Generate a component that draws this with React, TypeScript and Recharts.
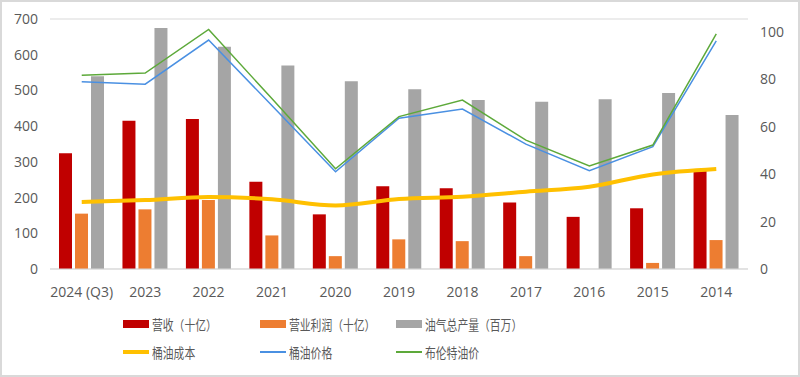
import { ComposedChart, Bar, Line, XAxis, YAxis, CartesianGrid } from 'recharts';

const years = ['2024 (Q3)', '2023', '2022', '2021', '2020', '2019', '2018', '2017', '2016', '2015', '2014'];
const revenue = [324, 415, 420, 244, 153, 232, 226, 186, 146, 170, 276];
const profit = [155, 167, 193, 94, 36, 83, 78, 36, 0, 17, 81];
const production = [540, 675, 622, 570, 526, 503, 473, 468, 475, 493, 431];
const barrelCost = [28.3, 29.1, 30.4, 29.4, 26.8, 29.5, 30.5, 32.6, 34.7, 39.9, 42.2];
const barrelPrice = [79, 78, 96.6, 68.9, 41, 63.6, 67.5, 52.7, 41.5, 51.6, 96.3];
const brentPrice = [81.8, 82.7, 101.1, 71.8, 42.3, 64.3, 71.3, 54.4, 43.5, 52.3, 99.2];

const leftTicks = [0, 100, 200, 300, 400, 500, 600, 700];
const rightTicks = [0, 20, 40, 60, 80, 100];

const data = years.map((year, i) => ({
  year,
  revenue: revenue[i],
  profit: profit[i],
  production: production[i],
  barrelCost: barrelCost[i],
  barrelPrice: barrelPrice[i],
  brentPrice: brentPrice[i],
}));

// legend entries, same order as the Excel legend
const legendItems = [
  { name: '营收（十亿）', color: '#C00000', kind: 'bar' },
  { name: '营业利润（十亿）', color: '#ED7D31', kind: 'bar' },
  { name: '油气总产量（百万）', color: '#A5A5A5', kind: 'bar' },
  { name: '桶油成本', color: '#FFC000', kind: 'thick' },
  { name: '桶油价格', color: '#4A90E2', kind: 'line' },
  { name: '布伦特油价', color: '#5DA93A', kind: 'line' },
];

const axisTick = { fill: '#595959', fontSize: 14, fontFamily: '"Open Sans", sans-serif' };

const COL_X = [123, 260, 396];
const ROW_Y = [324, 352];

function ChartLegend() {
  return (
    <>
      {legendItems.map((item, i) => {
        const col = i % 3;
        const row = Math.floor(i / 3);
        const h = item.kind === 'bar' ? 8 : item.kind === 'thick' ? 4 : 1.5;
        return (
          <div
            key={item.name}
            style={{
              position: 'absolute',
              left: COL_X[col],
              top: ROW_Y[row] - 10,
              height: 20,
              display: 'flex',
              alignItems: 'center',
              whiteSpace: 'nowrap',
            }}
          >
            <span style={{ display: 'inline-block', width: 26, height: h, background: item.color, marginRight: 3 }} />
            <span
              style={{
                display: 'inline-block',
                fontFamily: '"Noto Sans CJK SC", sans-serif',
                fontSize: 13.5,
                color: '#595959',
                transform: 'scaleX(0.8)',
                transformOrigin: 'left center',
              }}
            >
              {item.name}
            </span>
          </div>
        );
      })}
    </>
  );
}

export default function App() {
  return (
    <div
      style={{
        position: 'absolute',
        left: 0,
        top: 0,
        width: 800,
        height: 377,
        background: '#fff',
        overflow: 'hidden',
      }}
    >
      <div style={{ position: 'absolute', left: 0, top: 0 }}>
        <ComposedChart
          width={800}
          height={377}
          data={data}
          margin={{ top: 19, right: 0, bottom: 78, left: 6 }}
          barSize={13}
          barGap={3}
        >
          <CartesianGrid vertical={false} stroke="#d9d9d9" strokeWidth={1} />
          <XAxis
            dataKey="year"
            axisLine={{ stroke: '#d9d9d9' }}
            tickLine={false}
            tick={axisTick}
            tickMargin={12}
            height={30}
            interval={0}
          />
          <YAxis
            yAxisId="left"
            domain={[0, 700]}
            ticks={leftTicks}
            axisLine={false}
            tickLine={false}
            tick={axisTick}
            tickMargin={6}
            width={44}
          />
          <YAxis
            yAxisId="right"
            orientation="right"
            domain={[0, 105.5]}
            ticks={rightTicks}
            axisLine={false}
            tickLine={false}
            tick={{ ...axisTick, textAnchor: 'start' }}
            tickMargin={6}
            width={52}
            allowDataOverflow
          />
          <Bar yAxisId="left" dataKey="revenue" name="营收（十亿）" fill="#C00000" isAnimationActive={false} />
          <Bar yAxisId="left" dataKey="profit" name="营业利润（十亿）" fill="#ED7D31" isAnimationActive={false} />
          <Bar yAxisId="left" dataKey="production" name="油气总产量（百万）" fill="#A5A5A5" isAnimationActive={false} />
          <Line yAxisId="right" type="monotone" dataKey="barrelCost" name="桶油成本" stroke="#FFC000" strokeWidth={4} dot={false} isAnimationActive={false} />
          <Line yAxisId="right" type="linear" dataKey="barrelPrice" name="桶油价格" stroke="#4A90E2" strokeWidth={1.5} dot={false} isAnimationActive={false} />
          <Line yAxisId="right" type="linear" dataKey="brentPrice" name="布伦特油价" stroke="#5DA93A" strokeWidth={1.5} dot={false} isAnimationActive={false} />
        </ComposedChart>
      </div>
      <ChartLegend />
      <div
        style={{
          position: 'absolute',
          inset: 0,
          border: '2px solid #d9d9d9',
          pointerEvents: 'none',
        }}
      />
    </div>
  );
}
